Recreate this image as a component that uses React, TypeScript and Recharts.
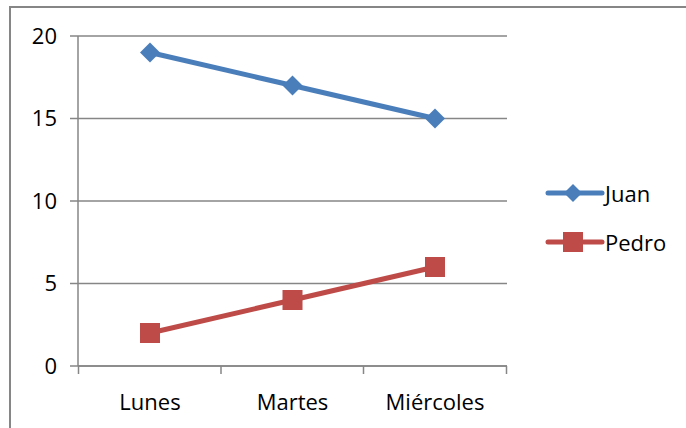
import { LineChart, Line, XAxis, YAxis, CartesianGrid } from 'recharts'

const dias = ['Lunes', 'Martes', 'Miércoles']
const juan = [19, 17, 15]
const pedro = [2, 4, 6]
const yTicks = [0, 5, 10, 15, 20]

const data = dias.map((dia, i) => ({ dia, Juan: juan[i], Pedro: pedro[i] }))

const AZUL = '#4A7EBB'
const ROJO = '#BE4B48'
const GRIS = '#868686'
const FUENTE = '"Open Sans", "Noto Sans", sans-serif'
const MARGEN_X = 44

// tick de categoria: etiqueta al centro, marcas en los bordes de cada banda
function TickDia(props: any) {
  const { x, y, payload, index, visibleTicksCount, width } = props
  const banda = width / visibleTicksCount
  const ejeY = y - MARGEN_X
  return (
    <g>
      <line x1={x - banda / 2} y1={ejeY} x2={x - banda / 2} y2={ejeY + 8} stroke={GRIS} strokeWidth={1.5} />
      {index === visibleTicksCount - 1 && (
        <line x1={x + banda / 2} y1={ejeY} x2={x + banda / 2} y2={ejeY + 8} stroke={GRIS} strokeWidth={1.5} />
      )}
      <text x={x} y={y} textAnchor="middle" fill="#000" fontSize={22} fontFamily={FUENTE}>
        {payload.value}
      </text>
    </g>
  )
}

function Rombo(props: any) {
  const { cx, cy } = props
  return <path d={`M${cx},${cy - 10} L${cx + 10},${cy} L${cx},${cy + 10} L${cx - 10},${cy} Z`} fill={AZUL} />
}

function Cuadro(props: any) {
  const { cx, cy } = props
  return <rect x={cx - 10} y={cy - 10} width={20} height={20} fill={ROJO} />
}

export default function App() {
  return (
    <div style={{ position: 'fixed', left: 0, top: 0, width: 686, height: 428, background: '#fff', overflow: 'hidden' }}>
      <div
        style={{
          position: 'absolute',
          left: 9,
          top: 6,
          width: 700,
          height: 450,
          borderTop: `2px solid ${GRIS}`,
          borderLeft: `2px solid ${GRIS}`
        }}
      />
      <div style={{ position: 'absolute', left: 0, top: 0 }}>
        <LineChart width={686} height={428} data={data} margin={{ top: 36, right: 179, bottom: 0, left: 0 }}>
          <CartesianGrid horizontal vertical={false} stroke={GRIS} strokeWidth={1.5} />
          <XAxis
            dataKey="dia"
            axisLine={{ stroke: GRIS, strokeWidth: 1.5 }}
            tickLine={false}
            tickSize={0}
            tickMargin={MARGEN_X}
            height={62}
            tick={<TickDia />}
            interval={0}
            padding={{ left: 72, right: 72 }}
          />
          <YAxis
            domain={[0, 20]}
            ticks={yTicks}
            width={78}
            axisLine={{ stroke: GRIS, strokeWidth: 1.5 }}
            tickLine={{ stroke: GRIS, strokeWidth: 1.5 }}
            tickSize={8}
            tickMargin={13}
            tick={{ fill: '#000', fontSize: 22, fontFamily: FUENTE }}
          />
          <Line dataKey="Juan" stroke={AZUL} strokeWidth={5} dot={<Rombo />} isAnimationActive={false} />
          <Line dataKey="Pedro" stroke={ROJO} strokeWidth={5} dot={<Cuadro />} isAnimationActive={false} />
        </LineChart>
      </div>
      <div style={{ position: 'absolute', left: 545, top: 176, fontFamily: FUENTE, fontSize: 22, color: '#000' }}>
        <div style={{ display: 'flex', alignItems: 'center', height: 34, marginBottom: 15 }}>
          <svg width={60} height={24}>
            <line x1={3} y1={12} x2={57} y2={12} stroke={AZUL} strokeWidth={5} strokeLinecap="round" />
            <path d="M28,3 L37,12 L28,21 L19,12 Z" fill={AZUL} />
          </svg>
          <span>Juan</span>
        </div>
        <div style={{ display: 'flex', alignItems: 'center', height: 34 }}>
          <svg width={60} height={24}>
            <line x1={3} y1={12} x2={57} y2={12} stroke={ROJO} strokeWidth={5} strokeLinecap="round" />
            <rect x={18} y={2} width={20} height={20} fill={ROJO} />
          </svg>
          <span>Pedro</span>
        </div>
      </div>
    </div>
  )
}
